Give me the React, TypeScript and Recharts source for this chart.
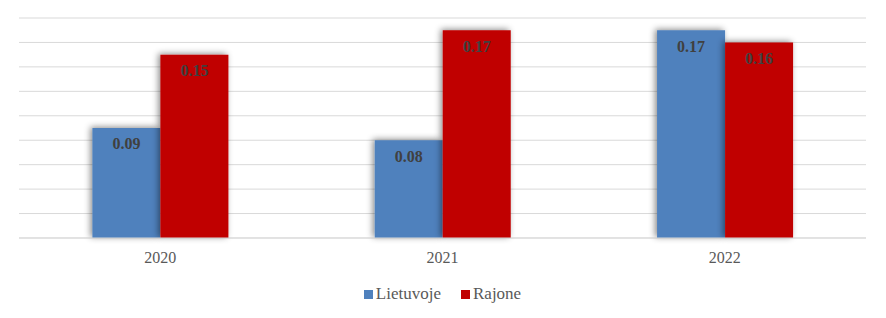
import React from 'react';
import { BarChart, Bar, XAxis, YAxis, CartesianGrid, Legend, LabelList } from 'recharts';

const years = ['2020', '2021', '2022'];
const lietuvoje = [0.09, 0.08, 0.17];
const rajone = [0.15, 0.17, 0.16];
const yTicks = [0, 0.02, 0.04, 0.06, 0.08, 0.1, 0.12, 0.14, 0.16, 0.18];

const chartData = years.map((year, i) => ({
    year,
    lietuvoje: lietuvoje[i],
    rajone: rajone[i],
}));

const font = '"Liberation Serif", "Times New Roman", serif';

const labelStyle = { fill: '#404040', fontSize: 16, fontWeight: 'bold' as const, fontFamily: font };

const renderLegend = (props: any) => {
    const { payload = [] } = props;
    return (
        <div style={{ display: 'flex', justifyContent: 'center', gap: 20, fontFamily: font, fontSize: 17, color: '#595959', lineHeight: '20px' }}>
            {payload.map((entry: any, i: number) => (
                <div key={i} style={{ display: 'flex', alignItems: 'center' }}>
                    <span style={{ display: 'inline-block', width: 9, height: 9, background: entry.color, marginRight: 3 }} />
                    <span style={{ fontFamily: font }}>{entry.value}</span>
                </div>
            ))}
        </div>
    );
};

const App: React.FC = () => {
    return (
        <div style={{ position: 'absolute', left: 0, top: 0, width: 886, height: 318, background: '#fff', fontFamily: font }}>
            <BarChart
                width={886}
                height={318}
                data={chartData}
                margin={{ top: 18, right: 20, left: 19, bottom: 12 }}
                barCategoryGap="26%"
                barGap={0}
            >
                <defs>
                    <filter id="barShadow" x="-30%" y="-30%" width="160%" height="160%">
                        <feDropShadow dx="-2" dy="-1" stdDeviation="3" floodColor="#000" floodOpacity="0.45" />
                    </filter>
                </defs>
                <CartesianGrid vertical={false} stroke="#d9d9d9" strokeWidth={1} />
                <YAxis hide domain={[0, 0.18]} ticks={yTicks} />
                <XAxis
                    dataKey="year"
                    axisLine={{ stroke: '#d9d9d9' }}
                    tickLine={false}
                    height={30}
                    tickMargin={8}
                    tick={{ fill: '#595959', fontSize: 16, fontFamily: font }}
                />
                <Legend
                    verticalAlign="bottom"
                    height={38}
                    wrapperStyle={{ top: 284 }}
                    content={renderLegend}
                />
                <Bar dataKey="lietuvoje" name="Lietuvoje" fill="#4f81bd" filter="url(#barShadow)" isAnimationActive={false}>
                    <LabelList dataKey="lietuvoje" position="insideTop" offset={10} style={labelStyle} formatter={(v: number) => v.toFixed(2)} />
                </Bar>
                <Bar dataKey="rajone" name="Rajone" fill="#c00000" filter="url(#barShadow)" isAnimationActive={false}>
                    <LabelList dataKey="rajone" position="insideTop" offset={10} style={labelStyle} formatter={(v: number) => v.toFixed(2)} />
                </Bar>
            </BarChart>
        </div>
    );
};

export default App;
